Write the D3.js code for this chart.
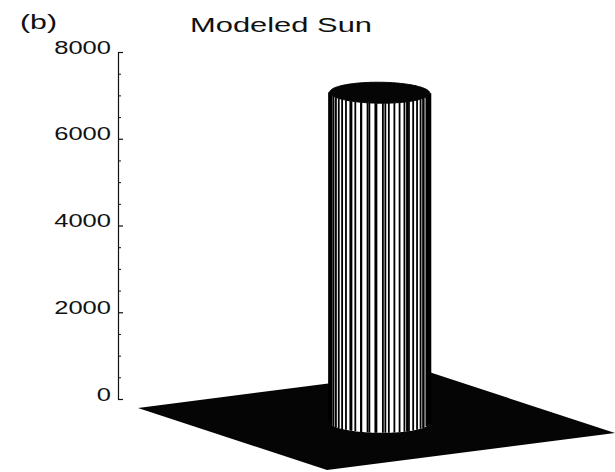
<!DOCTYPE html>
<html>
<head>
<meta charset="utf-8">
<script src="https://cdn.jsdelivr.net/npm/d3@7"></script>
<style>
  body { margin: 0; background: #fff; }
  text { font-family: "Liberation Sans", Arial, Helvetica, sans-serif; fill: #111; }
</style>
</head>
<body>
<div id="chart"></div>
<script>
const W = 615, H = 472;

// z axis
const zDomain = [0, 8000];
const zTicks = [0, 2000, 4000, 6000, 8000];
const zMinor = [500, 1000, 1500, 2500, 3000, 3500, 4500, 5000, 5500, 6500, 7000, 7500];

// model grid (cells) and the sun disk on it
const gridSize = 64;
const sunCenter = [33.7, 31.6];
const sunRadius = 9.3;
const sunHeight = 7600;
const floorLevel = 0;

const svg = d3.select("#chart").append("svg")
  .attr("width", W).attr("height", H);

const zScale = d3.scaleLinear().domain(zDomain).range([399, 52]);

// oblique projection of the grid: columns run toward the front corner,
// rows toward the right corner
const colScale = d3.scaleLinear().domain([0, gridSize]).range([[138, 408], [327, 470]]);
const rowScale = d3.scaleLinear().domain([0, gridSize]).range([[0, 0], [288, -37]]);

function project(x, y, z) {
  const c = colScale(x), r = rowScale(y);
  return [c[0] + r[0], c[1] + r[1] + (zScale(z) - zScale(0))];
}

// floor
const corners = [[0, 0], [gridSize, 0], [gridSize, gridSize], [0, gridSize]];
svg.append("polygon")
  .attr("points", corners.map(d => project(d[0], d[1], floorLevel).join(",")).join(" "))
  .attr("fill", "#050505");

// silhouette angles of the disk in screen space
const ax = (327 - 138) / gridSize, bx = 288 / gridSize;
const thR = Math.atan2(bx, ax);
const thL = thR - Math.PI;
const thF = thR - Math.PI / 2;

const arc = d3.range(0, 121).map(i => thL + (thR - thL) * i / 120);
const ring = (th, z) => project(sunCenter[0] + sunRadius * Math.cos(th), sunCenter[1] + sunRadius * Math.sin(th), z);

// front wall
const wallPts = arc.map(t => ring(t, floorLevel)).concat(arc.slice().reverse().map(t => ring(t, sunHeight)));
svg.append("polygon")
  .attr("points", wallPts.map(p => p.join(",")).join(" "))
  .attr("fill", "#fff");

// mesh lines crossing the disk edge become vertical strokes on the wall
const crossings = [];
for (let i = 0; i <= gridSize; i++) {
  const dx = i - sunCenter[0];
  if (Math.abs(dx) < sunRadius) {
    const h = Math.sqrt(sunRadius * sunRadius - dx * dx);
    [sunCenter[1] - h, sunCenter[1] + h].forEach(y => crossings.push([i, y]));
  }
  const dy = i - sunCenter[1];
  if (Math.abs(dy) < sunRadius) {
    const h = Math.sqrt(sunRadius * sunRadius - dy * dy);
    [sunCenter[0] - h, sunCenter[0] + h].forEach(x => crossings.push([x, i]));
  }
}
const front = crossings.filter(d => {
  const th = Math.atan2(d[1] - sunCenter[1], d[0] - sunCenter[0]);
  return Math.cos(th - thF) > 0;
});

svg.append("g").selectAll("line")
  .data(front)
  .join("line")
  .attr("x1", d => project(d[0], d[1], floorLevel)[0])
  .attr("x2", d => project(d[0], d[1], sunHeight)[0])
  .attr("y1", d => project(d[0], d[1], floorLevel)[1])
  .attr("y2", d => project(d[0], d[1], sunHeight)[1])
  .attr("stroke", "#000")
  .attr("stroke-width", 1.8);

// wall outline at both silhouettes
[thL, thR].forEach(t => {
  const a = ring(t, floorLevel), b = ring(t, sunHeight);
  svg.append("line")
    .attr("x1", a[0]).attr("y1", a[1]).attr("x2", b[0]).attr("y2", b[1])
    .attr("stroke", "#000").attr("stroke-width", 3);
});

// top of the disk
const full = d3.range(0, 181).map(i => 2 * Math.PI * i / 180);
svg.append("polygon")
  .attr("points", full.map(t => ring(t, sunHeight).join(",")).join(" "))
  .attr("fill", "#050505")
  .attr("stroke", "#000")
  .attr("stroke-width", 1);

// z axis
const axisG = svg.append("g").attr("transform", "translate(118,0)");
axisG.call(d3.axisLeft(zScale).tickValues(zTicks).tickSize(-5).tickPadding(7).tickFormat(d3.format("d")))
  .call(g => g.selectAll("path,line").attr("stroke", "#111").attr("stroke-width", 1.2))
  .call(g => g.selectAll("text")
    .attr("font-size", 18.5)
    .attr("dy", "0.06em")
    .attr("fill", "#111")
    .attr("lengthAdjust", "spacingAndGlyphs")
    .attr("textLength", d => String(d).length * 14.2));
axisG.append("g")
  .call(d3.axisLeft(zScale).tickValues(zMinor).tickSize(-3).tickFormat(""))
  .call(g => g.select(".domain").remove())
  .call(g => g.selectAll("line").attr("stroke", "#111"));

// labels
svg.append("text")
  .attr("x", 20).attr("y", 29)
  .attr("font-size", 20)
  .attr("lengthAdjust", "spacingAndGlyphs")
  .attr("textLength", 37)
  .text("(b)");

svg.append("text")
  .attr("x", 190).attr("y", 31.5)
  .attr("font-size", 21)
  .attr("lengthAdjust", "spacingAndGlyphs")
  .attr("textLength", 182)
  .text("Modeled Sun");
</script>
</body>
</html>
